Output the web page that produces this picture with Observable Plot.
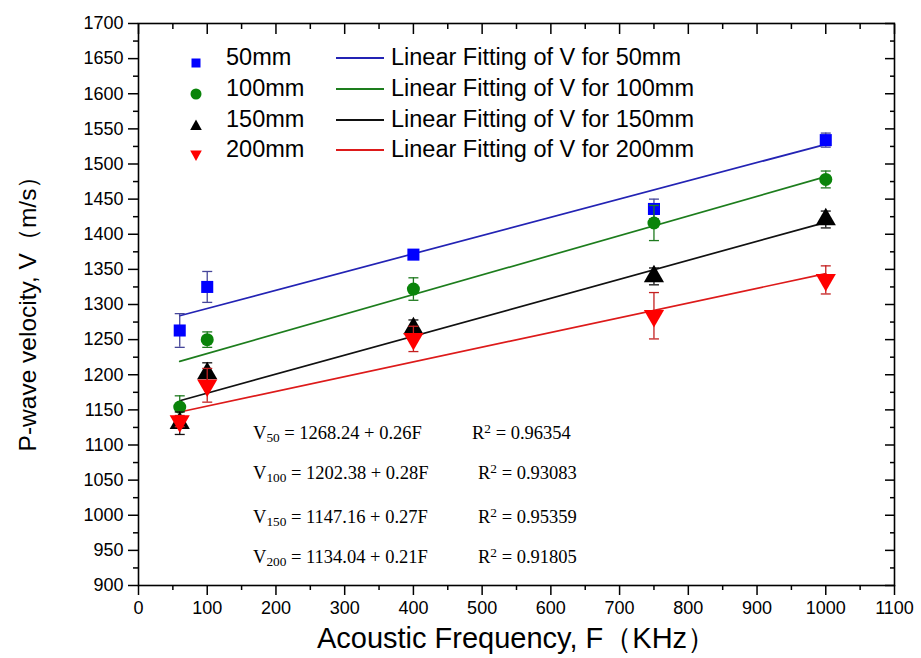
<!DOCTYPE html>
<html>
<head>
<meta charset="utf-8">
<script src="https://cdn.jsdelivr.net/npm/d3@7"></script>
<script src="https://cdn.jsdelivr.net/npm/@observablehq/plot@0.6"></script>
<style>
  html, body { margin: 0; padding: 0; background: #fff; }
  #wrap { position: relative; width: 921px; height: 658px; font-family: "Liberation Sans", Arial, sans-serif; }
  .leg { position: absolute; font-size: 23.5px; line-height: 1; color: #000; white-space: nowrap; transform: translateY(-50%); }
  .eq { position: absolute; font-family: "Liberation Serif", "Times New Roman", serif; font-size: 18.5px; color: #000; white-space: nowrap; line-height: 1; transform: translateY(-50%); }
  .eq sub { font-size: 0.72em; vertical-align: -0.25em; line-height: 0; }
  .eq sup { font-size: 0.72em; vertical-align: 0.45em; line-height: 0; }
</style>
</head>
<body>
<div id="wrap"></div>
<script>
// ---- data ----
const freqs = [60, 100, 400, 750, 1000];
const seriesNames = ["50mm", "100mm", "150mm", "200mm"];
const v50  = [1263, 1325, 1371, 1436, 1534];
const e50  = [24, 22, 5, 14, 10];
const v100 = [1154, 1250, 1322, 1416, 1478];
const e100 = [16, 11, 16, 25, 12];
const v150 = [1131, 1202, 1266, 1340, 1421];
const e150 = [16, 15, 12, 12, 12];
const v200 = [1134, 1185, 1251, 1284, 1335];
const e200 = [8, 24, 18, 33, 20];
const fitX = [60, 1000];
const fit50  = [1284, 1528];
const fit100 = [1219, 1482];
const fit150 = [1163, 1417];
const fit200 = [1147, 1344];
const xMajor = [0, 100, 200, 300, 400, 500, 600, 700, 800, 900, 1000, 1100];
const xMinor = [50, 150, 250, 350, 450, 550, 650, 750, 850, 950, 1050];
const yMajor = [900, 950, 1000, 1050, 1100, 1150, 1200, 1250, 1300, 1350, 1400, 1450, 1500, 1550, 1600, 1650, 1700];
const yMinor = [925, 975, 1025, 1075, 1125, 1175, 1225, 1275, 1325, 1375, 1425, 1475, 1525, 1575, 1625, 1675];
const equations = [
  ["50", "1268.24", "0.26", "0.96354"],
  ["100", "1202.38", "0.28", "0.93083"],
  ["150", "1147.16", "0.27", "0.95359"],
  ["200", "1134.04", "0.21", "0.91805"]
];
const xTitle = "Acoustic Frequency, F（KHz）";
const yTitle = "P-wave velocity, V（m/s）";

// ---- styles ----
const styles = [
  {name: "50mm",  vals: v50,  errs: e50,  fit: fit50,  fill: "#0000ff", err: "#46469a", line: "#2323b4", symbol: "square",   r: 6.8, rotate: 0,   lsym: "square"},
  {name: "100mm", vals: v100, errs: e100, fit: fit100, fill: "#0a840a", err: "#1f7a1f", line: "#1d7d1d", symbol: "circle",   r: 6.5, rotate: 0,   lsym: "circle"},
  {name: "150mm", vals: v150, errs: e150, fit: fit150, fill: "#000000", err: "#111111", line: "#111111", symbol: "triangle", r: 7.5, rotate: 0,   lsym: "up"},
  {name: "200mm", vals: v200, errs: e200, fit: fit200, fill: "#ff0000", err: "#c42020", line: "#dd1a1a", symbol: "triangle", r: 7.5, rotate: 180, lsym: "down"}
];

const pts = [], fits = [];
styles.forEach(s => {
  freqs.forEach((f, i) => pts.push({series: s.name, f, v: s.vals[i], lo: s.vals[i] - s.errs[i], hi: s.vals[i] + s.errs[i]}));
  fitX.forEach((f, i) => fits.push({series: s.name, f, v: s.fit[i]}));
});

const capSymbol = { draw(ctx) { ctx.moveTo(-5, 0); ctx.lineTo(5, 0); } };
const tickOnly = {fill: "none", stroke: "#000", strokeWidth: 1.5, label: null};

const marks = [
  // bottom axis
  Plot.axisX({anchor: "bottom", ticks: xMajor, tickSize: 10, tickPadding: 6, fontSize: 18, stroke: "#000", fill: "#000", strokeWidth: 1.5, label: null, tickFormat: d => String(d)}),
  Plot.axisX({anchor: "bottom", ticks: xMinor, tickSize: 5, ...tickOnly}),
  // top axis (inward)
  Plot.axisX({anchor: "top", ticks: xMajor, tickSize: -10, ...tickOnly}),
  Plot.axisX({anchor: "top", ticks: xMinor, tickSize: -5, ...tickOnly}),
  // left axis
  Plot.axisY({anchor: "left", ticks: yMajor, tickSize: 10, tickPadding: 5, fontSize: 18, stroke: "#000", fill: "#000", strokeWidth: 1.5, label: null, tickFormat: d => String(d)}),
  Plot.axisY({anchor: "left", ticks: yMinor, tickSize: 5, ...tickOnly}),
  // right axis (inward)
  Plot.axisY({anchor: "right", ticks: yMajor, tickSize: -10, ...tickOnly}),
  Plot.axisY({anchor: "right", ticks: yMinor, tickSize: -5, ...tickOnly}),
  Plot.frame({stroke: "#000", strokeWidth: 1.6}),
  // axis titles
  Plot.text([xTitle], {frameAnchor: "bottom", dy: 53, text: d => d, fontSize: 29, textAnchor: "middle", lineAnchor: "middle", fill: "#000"}),
  Plot.text([yTitle], {frameAnchor: "left", dx: -110, dy: 3, text: d => d, fontSize: 24.5, rotate: -90, textAnchor: "middle", lineAnchor: "middle", fill: "#000"})
];

styles.forEach(s => {
  marks.push(Plot.line(fits.filter(d => d.series === s.name), {x: "f", y: "v", stroke: s.line, strokeWidth: 1.7}));
});
styles.forEach(s => {
  const d = pts.filter(p => p.series === s.name);
  marks.push(
    Plot.ruleX(d, {x: "f", y1: "lo", y2: "hi", stroke: s.err, strokeWidth: 1.3}),
    Plot.dot(d, {x: "f", y: "lo", symbol: capSymbol, stroke: s.err, strokeWidth: 1.3, fill: "none"}),
    Plot.dot(d, {x: "f", y: "hi", symbol: capSymbol, stroke: s.err, strokeWidth: 1.3, fill: "none"}),
    Plot.dot(d, {x: "f", y: "v", symbol: s.symbol, r: s.r, fill: s.fill, stroke: "none", rotate: s.rotate})
  );
});

const chart = Plot.plot({
  width: 921, height: 658,
  marginLeft: 138, marginRight: 27, marginTop: 23, marginBottom: 73,
  x: {domain: [0, 1100]},
  y: {domain: [900, 1700]},
  style: {fontFamily: "'Liberation Sans', Arial, sans-serif", fontSize: "18px", color: "#000", background: "#fff", overflow: "visible"},
  marks
});
const wrap = document.getElementById("wrap");
wrap.appendChild(chart);

// ---- legend (HTML overlay) ----
const rowY = [58, 89, 120, 150];
const symSvg = (kind, color) => {
  if (kind === "square") return `<svg width="14" height="14"><rect x="2.5" y="2.5" width="9" height="9" fill="${color}"/></svg>`;
  if (kind === "circle") return `<svg width="14" height="14"><circle cx="7" cy="7" r="5.5" fill="${color}"/></svg>`;
  if (kind === "up") return `<svg width="14" height="14"><path d="M7 1.5 L12.8 12 L1.2 12 Z" fill="${color}"/></svg>`;
  return `<svg width="14" height="14"><path d="M7 13 L12.8 2.5 L1.2 2.5 Z" fill="${color}"/></svg>`;
};
styles.forEach((s, i) => {
  const y = rowY[i];
  const m = document.createElement("div");
  m.className = "leg"; m.style.left = "189px"; m.style.top = y + "px"; m.style.height = "14px";
  m.innerHTML = symSvg(s.lsym, s.fill);
  wrap.appendChild(m);
  const t = document.createElement("div");
  t.className = "leg"; t.style.left = "226px"; t.style.top = y + "px";
  t.textContent = s.name;
  wrap.appendChild(t);
  const l = document.createElement("div");
  l.className = "leg"; l.style.left = "336px"; l.style.top = y + "px"; l.style.width = "48px"; l.style.height = "2px"; l.style.background = s.line;
  wrap.appendChild(l);
  const t2 = document.createElement("div");
  t2.className = "leg"; t2.style.left = "391px"; t2.style.top = y + "px";
  t2.textContent = "Linear Fitting of V for " + s.name;
  wrap.appendChild(t2);
});

// ---- equations (HTML overlay) ----
const eqY = [433, 473, 517, 557];
const r2X = [472, 478, 478, 478];
equations.forEach((e, i) => {
  const a = document.createElement("div");
  a.className = "eq"; a.style.left = "253px"; a.style.top = eqY[i] + "px";
  a.innerHTML = `V<sub>${e[0]}</sub> = ${e[1]} + ${e[2]}F`;
  wrap.appendChild(a);
  const b = document.createElement("div");
  b.className = "eq"; b.style.left = r2X[i] + "px"; b.style.top = eqY[i] + "px";
  b.innerHTML = `R<sup>2</sup> = ${e[3]}`;
  wrap.appendChild(b);
});
</script>
</body>
</html>
